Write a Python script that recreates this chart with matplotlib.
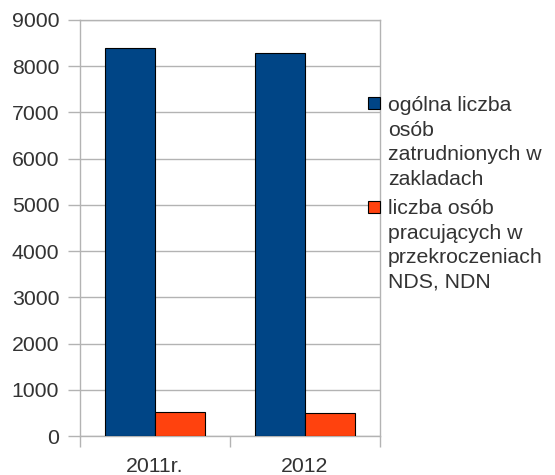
import matplotlib
matplotlib.use("Agg")
import matplotlib.pyplot as plt
import numpy as np
from matplotlib.patches import Rectangle

categories = ["2011r.", "2012"]
employed_total = [8400, 8290]
employed_exceed = [525, 490]
series_labels = ["ogólna liczba\nosób\nzatrudnionych w\nzakladach",
                 "liczba osób\npracujących w\nprzekroczeniach\nNDS, NDN"]
series_colors = ["#004586", "#ff420e"]
y_ticks = [0, 1000, 2000, 3000, 4000, 5000, 6000, 7000, 8000, 9000]

plt.rcParams['font.family'] = ['Liberation Sans', 'DejaVu Sans']
text_color = "#333333"
grid_color = "#b3b3b3"
fs = 15.3

fig = plt.figure(figsize=(5.55, 4.75), dpi=100)
ax = fig.add_axes([80/555, 1 - 436/475, 300/555, 416/475])

x = np.arange(len(categories))
w = 1/3
ax.bar(x - w/2, employed_total, width=w, color=series_colors[0], edgecolor="black", linewidth=0.8, zorder=3)
ax.bar(x + w/2, employed_exceed, width=w, color=series_colors[1], edgecolor="black", linewidth=0.8, zorder=3)

ax.set_xlim(-0.5, len(categories) - 0.5)
ax.set_ylim(0, 9000)
ax.set_yticks(y_ticks)
ax.set_yticklabels([str(v) for v in y_ticks], fontsize=fs, color=text_color)
ax.yaxis.grid(True, color=grid_color, linewidth=1, zorder=0)
ax.set_axisbelow(True)

ax.set_xticks(x)
ax.set_xticklabels(categories, fontsize=fs, color=text_color)
ax.set_xticks(np.arange(len(categories) + 1) - 0.5, minor=True)
ax.tick_params(axis='x', which='major', length=0, pad=15)
ax.tick_params(axis='x', which='minor', length=8, color=grid_color, width=1)
ax.tick_params(axis='y', length=9, color=grid_color, width=1, pad=6)

for s in ax.spines.values():
    s.set_color(grid_color)
    s.set_linewidth(1)

# legend (manual, handles aligned to first line); text anchored at last-line baseline
for lab, col, sq_top, last_base in zip(series_labels, series_colors, [97, 201], [185, 288]):
    fig.patches.append(Rectangle((368/555, 1 - (sq_top + 12)/475), 12/555, 12/475,
                                 transform=fig.transFigure, facecolor=col,
                                 edgecolor="black", linewidth=0.8))
    fig.text(388/555, 1 - last_base/475, lab, fontsize=fs, color=text_color,
             va="baseline", ha="left", linespacing=1.37)

fig.savefig("out.png", dpi=100)
